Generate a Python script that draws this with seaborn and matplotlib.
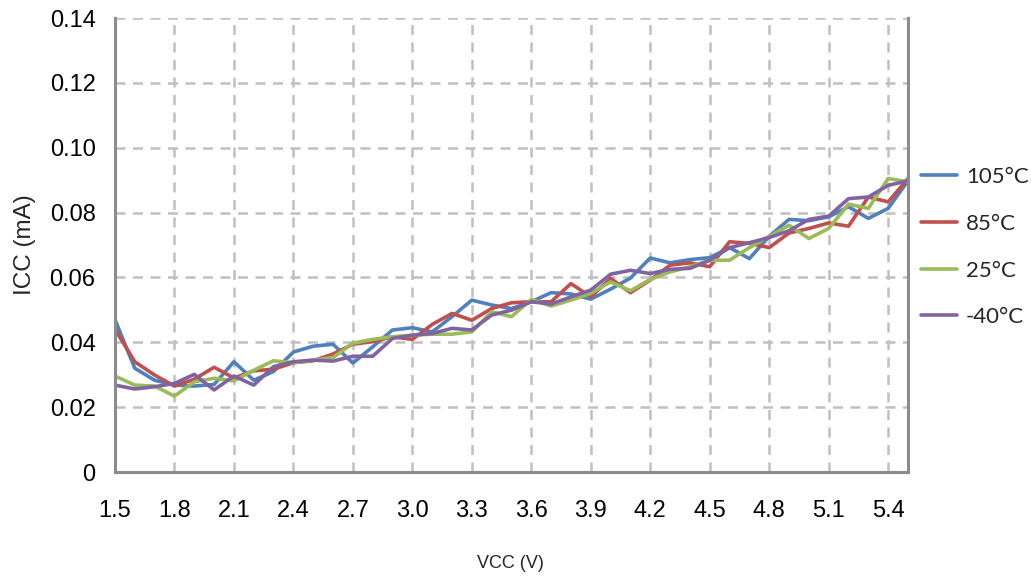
import numpy as np
import pandas as pd
import matplotlib
matplotlib.use("Agg")
import matplotlib.pyplot as plt
import seaborn as sns

vcc = [1.5, 1.6, 1.7, 1.8, 1.9, 2.0, 2.1, 2.2, 2.3, 2.4, 2.5, 2.6, 2.7, 2.8, 2.9, 3.0,
       3.1, 3.2, 3.3, 3.4, 3.5, 3.6, 3.7, 3.8, 3.9, 4.0, 4.1, 4.2, 4.3, 4.4, 4.5, 4.6,
       4.7, 4.8, 4.9, 5.0, 5.1, 5.2, 5.3, 5.4, 5.5]

icc_105 = [0.0470, 0.0320, 0.0283, 0.0268, 0.0265, 0.0270, 0.0340, 0.0283, 0.0310, 0.0370,
           0.0388, 0.0394, 0.0336, 0.0386, 0.0438, 0.0445, 0.0432, 0.0479, 0.0530, 0.0515,
           0.0504, 0.0525, 0.0553, 0.0549, 0.0533, 0.0564, 0.0598, 0.0660, 0.0645, 0.0655,
           0.0661, 0.0692, 0.0658, 0.0727, 0.0779, 0.0775, 0.0787, 0.0818, 0.0782, 0.0813,
           0.0898]
icc_85 = [0.0440, 0.0340, 0.0299, 0.0265, 0.0286, 0.0323, 0.0290, 0.0312, 0.0317, 0.0337,
          0.0343, 0.0364, 0.0394, 0.0402, 0.0417, 0.0409, 0.0455, 0.0489, 0.0468, 0.0504,
          0.0522, 0.0525, 0.0525, 0.0581, 0.0540, 0.0597, 0.0553, 0.0592, 0.0638, 0.0645,
          0.0633, 0.0710, 0.0705, 0.0692, 0.0737, 0.0751, 0.0768, 0.0758, 0.0848, 0.0833,
          0.0905]
icc_25 = [0.0296, 0.0268, 0.0265, 0.0234, 0.0278, 0.0289, 0.0281, 0.0314, 0.0343, 0.0337,
          0.0345, 0.0353, 0.0397, 0.0409, 0.0417, 0.0422, 0.0425, 0.0425, 0.0432, 0.0494,
          0.0479, 0.0532, 0.0512, 0.0530, 0.0551, 0.0586, 0.0559, 0.0594, 0.0617, 0.0633,
          0.0653, 0.0653, 0.0692, 0.0727, 0.0761, 0.0720, 0.0751, 0.0826, 0.0813, 0.0905,
          0.0895]
icc_m40 = [0.0268, 0.0256, 0.0263, 0.0273, 0.0301, 0.0253, 0.0296, 0.0268, 0.0325, 0.0340,
           0.0345, 0.0342, 0.0357, 0.0357, 0.0412, 0.0422, 0.0427, 0.0443, 0.0438, 0.0484,
           0.0499, 0.0525, 0.0518, 0.0540, 0.0561, 0.0610, 0.0622, 0.0612, 0.0625, 0.0628,
           0.0653, 0.0692, 0.0707, 0.0723, 0.0744, 0.0779, 0.0789, 0.0843, 0.0848, 0.0884,
           0.0898]

series_names = ["105°C", "85°C", "25°C", "-40°C"]
x_ticks = [1.5, 1.8, 2.1, 2.4, 2.7, 3.0, 3.3, 3.6, 3.9, 4.2, 4.5, 4.8, 5.1, 5.4]
x_tick_labels = ["1.5", "1.8", "2.1", "2.4", "2.7", "3.0", "3.3", "3.6", "3.9", "4.2",
                 "4.5", "4.8", "5.1", "5.4"]
y_ticks = [0, 0.02, 0.04, 0.06, 0.08, 0.10, 0.12, 0.14]
y_tick_labels = ["0", "0.02", "0.04", "0.06", "0.08", "0.10", "0.12", "0.14"]

frames = []
for name, vals in zip(series_names, [icc_105, icc_85, icc_25, icc_m40]):
    frames.append(pd.DataFrame({"VCC": vcc, "ICC": vals, "Temp": name}))
df = pd.concat(frames, ignore_index=True)

sns.set_theme(style="white")
plt.rcParams["font.family"] = ["Liberation Sans", "DejaVu Sans"]

palette = {"105°C": "#4F81BD", "85°C": "#C0504D", "25°C": "#9BBB59", "-40°C": "#8064A2"}

fig = plt.figure(figsize=(10.31, 5.79), dpi=100)
ax = fig.add_axes([0.1115, 0.1848, 0.7692, 0.7841])

sns.lineplot(data=df, x="VCC", y="ICC", hue="Temp", hue_order=series_names,
             palette=palette, linewidth=2.6, ax=ax, legend=True)

ax.set_xlim(1.5, 5.5)
ax.set_ylim(0, 0.14)
ax.set_xticks(x_ticks)
ax.set_xticklabels(x_tick_labels)
ax.set_yticks(y_ticks)
ax.set_yticklabels(y_tick_labels)
ax.tick_params(axis="both", labelsize=17, length=0, colors="black")
ax.tick_params(axis="y", pad=14)
ax.tick_params(axis="x", pad=20)
ax.grid(True, color="#c0c0c0", linestyle=(0, (4, 3)), linewidth=1.8)
ax.set_axisbelow(True)

for side in ["left", "bottom", "right"]:
    ax.spines[side].set_visible(True)
    ax.spines[side].set_color("#8c8c8c")
    ax.spines[side].set_linewidth(2.2)
ax.spines["top"].set_visible(False)

ax.set_xlabel("")
ax.set_ylabel("ICC (mA)", fontsize=17.5, labelpad=10)
fig.text(510 / 1031, 1 - 563 / 579, "VCC (V)", fontsize=13, ha="center", va="center")

leg = ax.legend(title=None, loc="center left", bbox_to_anchor=(1.0, 0.495),
                frameon=False, handlelength=1.6, labelspacing=1.2,
                handletextpad=0.4, borderaxespad=0.2,
                prop={"family": ["Lato", "DejaVu Sans"], "size": 16})
for line in leg.get_lines():
    line.set_linewidth(2.6)

fig.savefig("out.png", dpi=100)
